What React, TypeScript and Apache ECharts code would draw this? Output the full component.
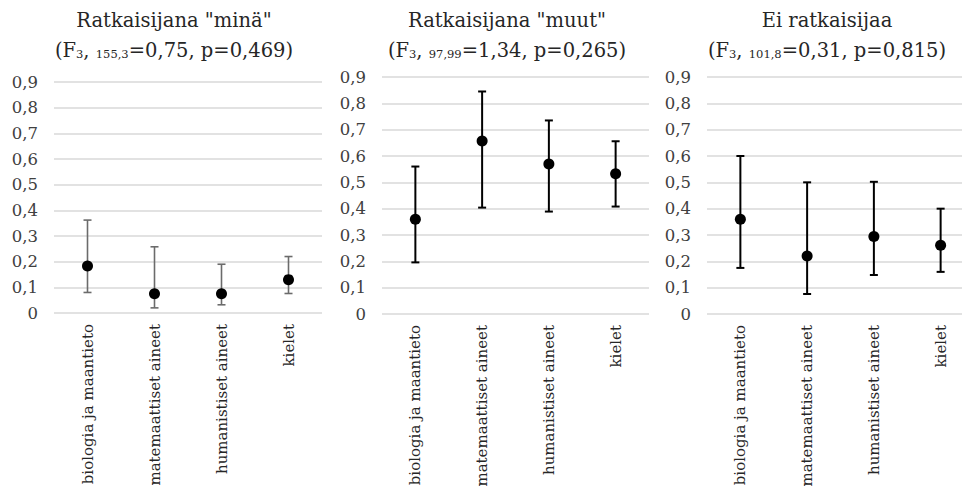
import React, { useEffect, useRef } from "react";
import * as echarts from "echarts";

const categories = ["biologia ja maantieto", "matemaattiset aineet", "humanistiset aineet", "kielet"];
const yTicks = [0, 0.1, 0.2, 0.3, 0.4, 0.5, 0.6, 0.7, 0.8, 0.9];

const minaMean = [0.183, 0.075, 0.075, 0.13];
const minaLow = [0.08, 0.02, 0.032, 0.076];
const minaHigh = [0.362, 0.258, 0.19, 0.22];

const muutMean = [0.36, 0.657, 0.57, 0.533];
const muutLow = [0.196, 0.404, 0.389, 0.408];
const muutHigh = [0.56, 0.845, 0.735, 0.656];

const eiMean = [0.36, 0.22, 0.294, 0.261];
const eiLow = [0.175, 0.076, 0.148, 0.16];
const eiHigh = [0.6, 0.5, 0.502, 0.4];

const titles = [
  { main: 'Ratkaisijana "minä"', sub1: "3", sub2: "155,3", rest: "=0,75, p=0,469)" },
  { main: 'Ratkaisijana "muut"', sub1: "3", sub2: "97,99", rest: "=1,34, p=0,265)" },
  { main: "Ei ratkaisijaa", sub1: "3", sub2: "101,8", rest: "=0,31, p=0,815)" },
];

const FONT = "DejaVu Serif";

export default function App() {
  const ref = useRef<HTMLDivElement>(null);
  useEffect(() => {
    document.body.style.margin = "0";
    const chart = echarts.init(ref.current!, null, { renderer: "svg" });

    const grids = [
      { left: 54, top: 82, width: 268, height: 231, outerBoundsMode: "none" },
      { left: 382, top: 77, width: 267, height: 237, outerBoundsMode: "none" },
      { left: 707, top: 77, width: 267, height: 237, outerBoundsMode: "none" },
    ];
    const titleCenters = [174, 507, 827];
    const panels = [
      { mean: minaMean, low: minaLow, high: minaHigh, barColor: "#6b6b6b", barWidth: 1.6 },
      { mean: muutMean, low: muutLow, high: muutHigh, barColor: "#000000", barWidth: 2 },
      { mean: eiMean, low: eiLow, high: eiHigh, barColor: "#000000", barWidth: 2 },
    ];

    const xAxis = grids.map((_, i) => ({
      type: "category",
      gridIndex: i,
      data: categories,
      axisLine: { show: false },
      axisTick: { show: false },
      axisLabel: {
        rotate: 90,
        margin: 11,
        fontFamily: FONT,
        fontSize: 15,
        color: "#262626",
        interval: 0,
      },
    }));
    const yAxis = grids.map((_, i) => ({
      type: "value",
      gridIndex: i,
      min: yTicks[0],
      max: yTicks[yTicks.length - 1],
      interval: 0.1,
      axisLine: { show: false },
      axisTick: { show: false },
      splitLine: { lineStyle: { color: "#d9d9d9", width: 1.5 } },
      axisLabel: {
        margin: 16,
        fontFamily: FONT,
        fontSize: 16.5,
        color: "#404040",
        formatter: (v: number) => (Math.round(v * 10) / 10).toString().replace(".", ","),
      },
    }));

    const series: any[] = [];
    panels.forEach((p, i) => {
      series.push({
        type: "custom",
        xAxisIndex: i,
        yAxisIndex: i,
        z: 2,
        data: categories.map((_, k) => [k, p.low[k], p.high[k]]),
        encode: { x: 0, y: [1, 2] },
        renderItem: (params: any, api: any) => {
          const lo = api.coord([api.value(0), api.value(1)]);
          const hi = api.coord([api.value(0), api.value(2)]);
          const hw = 4;
          const style = { stroke: p.barColor, lineWidth: p.barWidth };
          return {
            type: "group",
            children: [
              { type: "line", shape: { x1: lo[0], y1: lo[1], x2: hi[0], y2: hi[1] }, style },
              { type: "line", shape: { x1: lo[0] - hw, y1: lo[1], x2: lo[0] + hw, y2: lo[1] }, style },
              { type: "line", shape: { x1: hi[0] - hw, y1: hi[1], x2: hi[0] + hw, y2: hi[1] }, style },
            ],
          };
        },
      });
      series.push({
        type: "scatter",
        xAxisIndex: i,
        yAxisIndex: i,
        z: 5,
        symbol: "circle",
        symbolSize: 11,
        itemStyle: { color: "#000000", opacity: 1 },
        emphasis: { disabled: true },
        data: p.mean.map((v, k) => [k, v]),
      });
    });

    const graphic: any[] = [];
    titles.forEach((t, i) => {
      graphic.push({
        type: "text",
        x: titleCenters[i],
        y: 20,
        style: {
          text: t.main,
          fontFamily: FONT,
          fontSize: 19.5,
          fill: "#262626",
          align: "center",
          verticalAlign: "middle",
        },
      });
      graphic.push({
        type: "text",
        x: titleCenters[i],
        y: 50,
        style: {
          text: `(F{s|${t.sub1}}, {s|${t.sub2}}${t.rest}`,
          fontFamily: FONT,
          fontSize: 19.5,
          fill: "#262626",
          align: "center",
          verticalAlign: "middle",
          rich: {
            s: { fontFamily: FONT, fontSize: 11.5, fill: "#262626", verticalAlign: "bottom" },
          },
        },
      });
    });

    chart.setOption({
      animation: false,
      backgroundColor: "#ffffff",
      grid: grids,
      xAxis,
      yAxis,
      series,
      graphic,
    });
    return () => chart.dispose();
  }, []);
  return <div ref={ref} style={{ width: 962, height: 495 }} />;
}
